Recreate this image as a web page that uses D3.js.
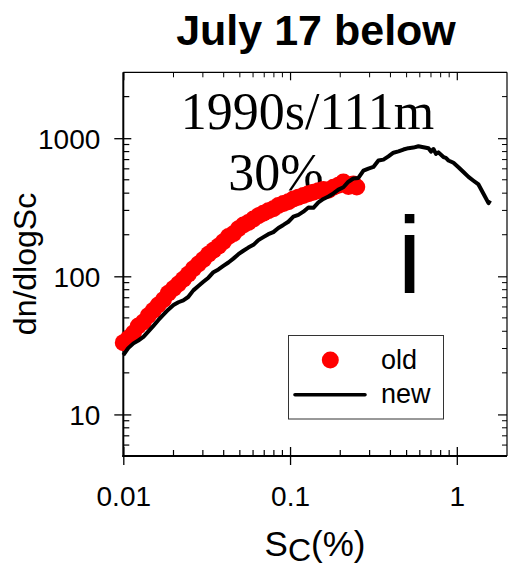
<!DOCTYPE html>
<html>
<head>
<meta charset="utf-8">
<script src="https://cdn.jsdelivr.net/npm/d3@7/dist/d3.min.js"></script>
<style>
  html, body { margin: 0; padding: 0; background: #fff; }
  svg { display: block; }
  text { font-family: "Liberation Sans", Arial, Helvetica, sans-serif; fill: #000; }
</style>
</head>
<body>
<svg id="chart" width="508" height="567"></svg>
<script>
// Critical supersaturation spectra (dn/dlogSc vs Sc %)
const oldSc = [0.0100, 0.0107, 0.0115, 0.0123, 0.0132, 0.0141, 0.0151, 0.0162, 0.0174, 0.0186,
  0.0200, 0.0214, 0.0229, 0.0245, 0.0263, 0.0282, 0.0302, 0.0324, 0.0347, 0.0372,
  0.0398, 0.0427, 0.0457, 0.0490, 0.0525, 0.0562, 0.0603, 0.0646, 0.0692, 0.0741,
  0.0794, 0.0851, 0.0912, 0.0977, 0.1047, 0.1122, 0.1202, 0.1288, 0.1380, 0.1479,
  0.1585, 0.1698, 0.1820, 0.1950, 0.2089, 0.2239, 0.2399, 0.2512];
const oldN = [33.1, 35.5, 38.9, 43.7, 46.6, 51.9, 56.5, 61.9, 67.6, 75.5,
  81.7, 88.1, 95.1, 103.5, 113.5, 123.0, 132.4, 144.5, 154.2, 165.2,
  177.8, 194.1, 203.2, 221.3, 235.5, 245.5, 260.0, 274.2, 285.8, 298.5,
  309.0, 325.1, 336.5, 346.7, 363.1, 374.1, 384.6, 396.3, 405.5, 416.9,
  424.6, 420.7, 441.6, 457.1, 480.8, 446.7, 465.6, 442.6];

const newSc = [0.0100, 0.0107, 0.0115, 0.0123, 0.0132, 0.0141, 0.0151, 0.0162, 0.0174, 0.0186,
  0.0200, 0.0214, 0.0229, 0.0245, 0.0263, 0.0282, 0.0302, 0.0324, 0.0347, 0.0372,
  0.0398, 0.0427, 0.0457, 0.0490, 0.0525, 0.0562, 0.0603, 0.0646, 0.0692, 0.0741,
  0.0794, 0.0851, 0.0912, 0.0977, 0.1047, 0.1122, 0.1202, 0.1288, 0.1380, 0.1479,
  0.1585, 0.1698, 0.1820, 0.1950, 0.2089, 0.2239, 0.2399, 0.2570, 0.2754, 0.2951,
  0.3162, 0.3388, 0.3631, 0.3890, 0.4169, 0.4467, 0.4786, 0.5129, 0.5495, 0.5888,
  0.6310, 0.6761, 0.7000, 0.7244, 0.7500, 0.7762, 0.8318, 0.8600, 0.8913, 0.9550,
  1.023, 1.096, 1.175, 1.259, 1.349, 1.445, 1.549, 1.585];
const newN = [26.9, 30.2, 32.7, 34.3, 36.4, 39.8, 43.6, 48.1, 52.7, 57.3,
  61.9, 64.9, 67.0, 70.8, 79.1, 85.1, 91.2, 97.7, 107.2, 112.2,
  118.9, 125.9, 134.3, 144.5, 153.1, 161.4, 169.0, 182.8, 192.3, 201.8,
  208.9, 223.9, 235.5, 248.3, 270.4, 278.6, 293.8, 314.8, 313.3, 342.8,
  363.1, 378.4, 398.1, 424.6, 441.6, 484.2, 510.5, 515.2, 582.1, 602.6,
  619.4, 688.7, 699.8, 737.9, 785.2, 803.5, 827.9, 847.2, 855.1, 875.0,
  861.0, 845.0, 800.0, 835.0, 770.0, 790.0, 730.0, 720.0, 690.0, 663.7,
  616.6, 568.9, 524.8, 492.0, 462.4, 396.3, 338.8, 354.0];

const xMajor = [0.01, 0.1, 1];
const xMajorLabels = ["0.01", "0.1", "1"];
const yMajor = [10, 100, 1000];
const yMajorLabels = ["10", "100", "1000"];
const seriesNames = ["old", "new"];

const svg = d3.select("#chart");
const L = 123.3, R = 507, T = 72.3, B = 456;

const x = d3.scaleLog().domain([0.01, 2.0]).range([L, R]);
const y = d3.scaleLog().domain([5, 3000]).range([B, T]);

// minor ticks: 2..9 times each decade inside the domain
function minors(scale) {
  const [a, b] = scale.domain();
  const out = [];
  for (let e = Math.floor(Math.log10(a)); e <= Math.ceil(Math.log10(b)); e++) {
    for (let m = 2; m <= 9; m++) {
      const v = m * Math.pow(10, e);
      if (v > a * 1.0001 && v < b * 0.9999) out.push(v);
    }
  }
  return out;
}
const xMinor = minors(x), yMinor = minors(y);

// bottom axis
const axBottom = svg.append("g").attr("transform", `translate(0,${B})`)
  .call(d3.axisBottom(x).tickValues(xMajor).tickFormat((d, i) => xMajorLabels[i]).tickSize(0).tickPadding(0));
axBottom.select(".domain").remove();
axBottom.selectAll(".tick line").attr("y1", -9).attr("y2", 9).attr("stroke-width", 1.3);
axBottom.selectAll(".tick text").attr("y", 50).attr("dy", 0).style("font-size", "28px").attr("font-family", null);
axBottom.selectAll(".minor").data(xMinor).join("line").attr("class", "minor")
  .attr("x1", d => x(d)).attr("x2", d => x(d)).attr("y1", 0).attr("y2", -6)
  .attr("stroke", "#000").attr("stroke-width", 1.2);

// top axis (inside ticks only)
const axTop = svg.append("g").attr("transform", `translate(0,${T})`)
  .call(d3.axisTop(x).tickValues(xMajor).tickFormat("").tickSize(0));
axTop.select(".domain").remove();
axTop.selectAll(".tick line").attr("y1", 0).attr("y2", 8).attr("stroke-width", 1.2);
axTop.selectAll(".minor").data(xMinor).join("line").attr("class", "minor")
  .attr("x1", d => x(d)).attr("x2", d => x(d)).attr("y1", 0).attr("y2", 5)
  .attr("stroke", "#000").attr("stroke-width", 1);

// left axis
const axLeft = svg.append("g").attr("transform", `translate(${L},0)`)
  .call(d3.axisLeft(y).tickValues(yMajor).tickFormat((d, i) => yMajorLabels[i]).tickSize(0).tickPadding(0));
axLeft.select(".domain").remove();
axLeft.selectAll(".tick line").attr("x1", -9).attr("x2", 8).attr("stroke-width", 1.3);
axLeft.selectAll(".tick text").attr("x", -23).attr("dy", 10.5).style("font-size", "28px").attr("font-family", null);
axLeft.selectAll(".minor").data(yMinor).join("line").attr("class", "minor")
  .attr("y1", d => y(d)).attr("y2", d => y(d)).attr("x1", 0).attr("x2", 6)
  .attr("stroke", "#000").attr("stroke-width", 1.2);

// right axis (inside ticks only)
const axRight = svg.append("g").attr("transform", `translate(${R},0)`)
  .call(d3.axisRight(y).tickValues(yMajor).tickFormat("").tickSize(0));
axRight.select(".domain").remove();
axRight.selectAll(".tick line").attr("x1", 0).attr("x2", -9).attr("stroke-width", 1.2);
axRight.selectAll(".minor").data(yMinor).join("line").attr("class", "minor")
  .attr("y1", d => y(d)).attr("y2", d => y(d)).attr("x1", 0).attr("x2", -5)
  .attr("stroke", "#000").attr("stroke-width", 1);

// frame
svg.append("line").attr("x1", L).attr("x2", R).attr("y1", T).attr("y2", T).attr("stroke", "#000").attr("stroke-width", 1.2);
svg.append("line").attr("x1", R).attr("x2", R).attr("y1", T).attr("y2", B).attr("stroke", "#000").attr("stroke-width", 1.2);
svg.append("line").attr("x1", L).attr("x2", L).attr("y1", T).attr("y2", B + 1).attr("stroke", "#000").attr("stroke-width", 2);
svg.append("line").attr("x1", L - 1).attr("x2", R).attr("y1", B).attr("y2", B).attr("stroke", "#000").attr("stroke-width", 2);

// annotations
svg.append("text").attr("x", 307.5).attr("y", 129).attr("text-anchor", "middle")
  .style("font-family", '"Liberation Serif", "Times New Roman", serif').style("font-size", "52px").text("1990s/111m");
svg.append("text").attr("x", 276).attr("y", 190).attr("text-anchor", "middle")
  .style("font-family", '"Liberation Serif", "Times New Roman", serif').style("font-size", "52px").text("30%");

// old: red dots
const oldData = oldSc.map((s, i) => ({ s, n: oldN[i] }));
svg.append("g").selectAll("circle").data(oldData).join("circle")
  .attr("cx", d => x(d.s)).attr("cy", d => y(d.n)).attr("r", 8.5).attr("fill", "#ff0000");

// new: black line
const newData = newSc.map((s, i) => ({ s, n: newN[i] }));
svg.append("path").datum(newData)
  .attr("d", d3.line().x(d => x(d.s)).y(d => y(d.n)))
  .attr("fill", "none").attr("stroke", "#000").attr("stroke-width", 4).attr("stroke-linejoin", "round");

// panel letter
svg.append("text").attr("x", 409.5).attr("y", 293).attr("text-anchor", "middle")
  .style("font-size", "109px").text("i");

// legend
const lg = svg.append("g");
lg.append("rect").attr("x", 288.5).attr("y", 335.5).attr("width", 155).attr("height", 83.5)
  .attr("fill", "#fff").attr("stroke", "#333").attr("stroke-width", 1);
lg.append("circle").attr("cx", 330.3).attr("cy", 360).attr("r", 8.5).attr("fill", "#ff0000");
lg.append("line").attr("x1", 295).attr("x2", 365).attr("y1", 394.7).attr("y2", 394.7)
  .attr("stroke", "#000").attr("stroke-width", 3.6).attr("stroke-linecap", "round");
lg.append("text").attr("x", 381).attr("y", 369.3).style("font-size", "27px").text(seriesNames[0]);
lg.append("text").attr("x", 381).attr("y", 403.3).style("font-size", "27px").text(seriesNames[1]);

// title
svg.append("text").attr("x", 316).attr("y", 45).attr("text-anchor", "middle")
  .style("font-size", "43px").style("font-weight", "bold").text("July 17 below");

// axis titles
svg.append("text").attr("transform", "translate(36,264) rotate(-90)").attr("text-anchor", "middle")
  .style("font-size", "32px").text("dn/dlogSc");
const xt = svg.append("text").attr("x", 315).attr("y", 556).attr("text-anchor", "middle").style("font-size", "35px");
xt.append("tspan").text("S");
xt.append("tspan").attr("dy", 5).style("font-size", "32px").text("C");
xt.append("tspan").attr("dy", -5).text("(%)");
</script>
</body>
</html>
